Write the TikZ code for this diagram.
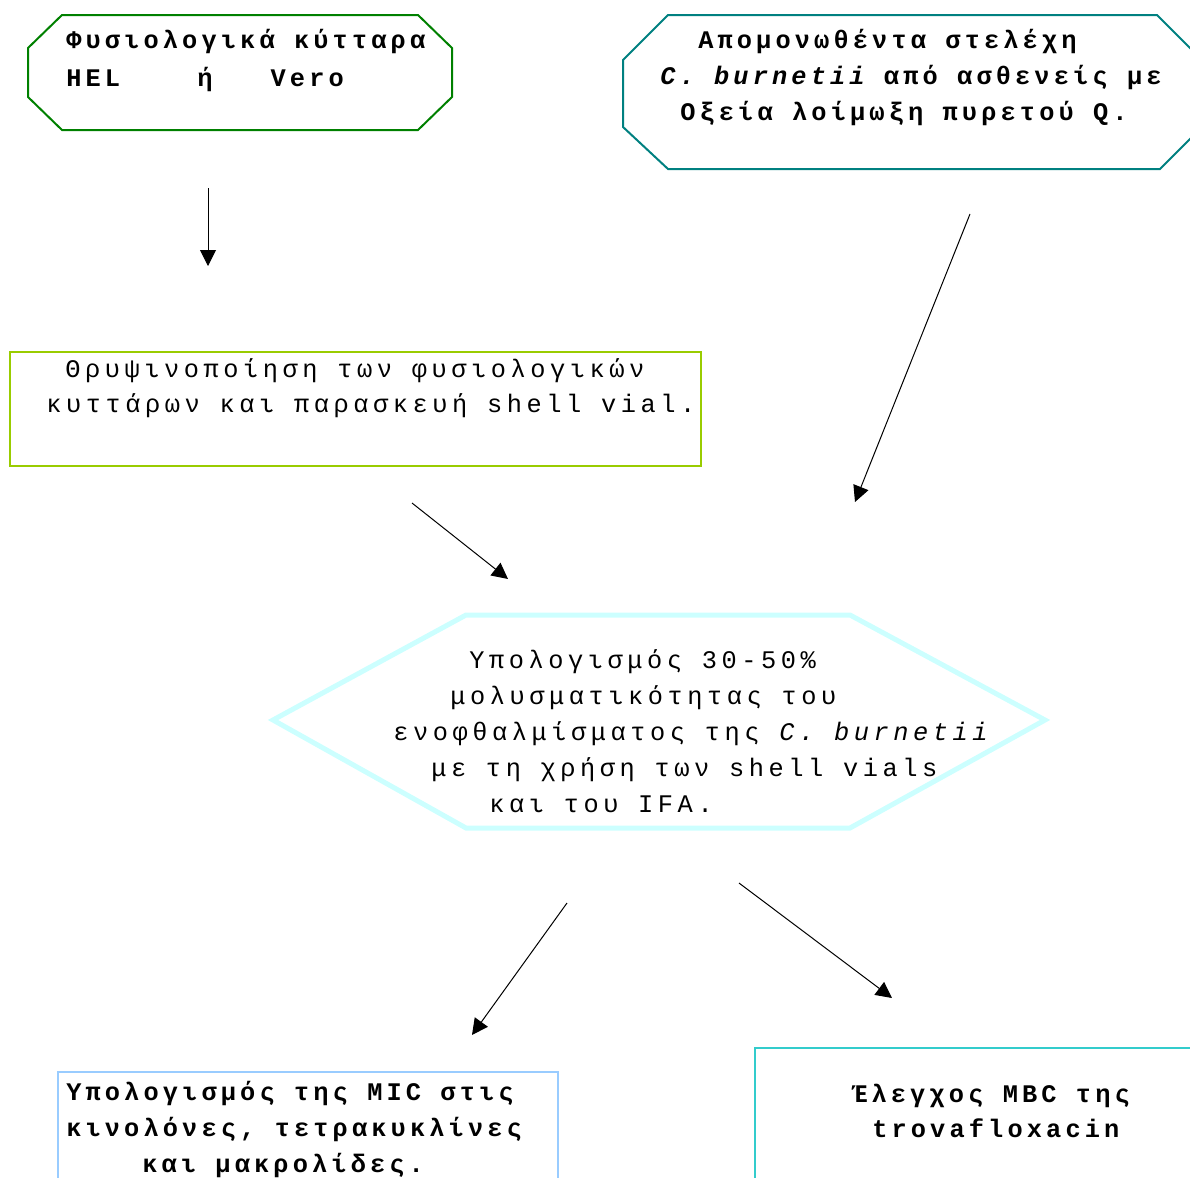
\documentclass[tikz,border=0pt]{standalone}
\usepackage{fontspec}
\usetikzlibrary{arrows.meta}
\newfontfamily\cour[LetterSpace=18,BoldFeatures={LetterSpace=16.3},BoldItalicFeatures={LetterSpace=16.3}]{Liberation Mono}
\definecolor{boxgreen}{RGB}{0,128,0}
\definecolor{boxteal}{RGB}{0,128,128}
\definecolor{boxlime}{RGB}{153,204,0}
\definecolor{boxcyan}{RGB}{204,255,255}
\definecolor{boxblue}{RGB}{153,204,255}
\definecolor{boxturq}{RGB}{51,204,204}
\begin{document}
\begin{tikzpicture}[x=0.75pt,y=-0.75pt,
  txt/.style={anchor=base west,inner sep=0pt,font=\cour\fontsize{19}{22}\selectfont},
  btxt/.style={anchor=base west,inner sep=0pt,font=\cour\bfseries\fontsize{19}{22}\selectfont},
  frame/.style={line width=1.5pt},
  link/.style={-{Triangle[length=12pt,width=12pt]},line width=0.75pt}]
\useasboundingbox (0,0) rectangle (1190,1178);
\begin{scope}
\clip (0,0) rectangle (1190,1178);
% box outlines
\draw[frame,boxgreen] (62,15) -- (418,15) -- (452,48) -- (452,97) -- (418,130) -- (62,130) -- (28,97) -- (28,48) -- cycle;
\draw[frame,boxteal] (668,15) -- (1157,15) -- (1202,60) -- (1202,127) -- (1160,169) -- (668,169) -- (623,127) -- (623,60) -- cycle;
\draw[frame,boxlime] (10,352) rectangle (701,466);
\draw[line width=3.75pt,boxcyan] (273,720) -- (466,615) -- (850,615) -- (1045,720) -- (850,828) -- (466,828) -- cycle;
\draw[frame,boxblue] (58,1200) -- (58,1072) -- (558,1072) -- (558,1200);
\draw[frame,boxturq] (755,1200) -- (755,1048) -- (1200,1048);
\end{scope}

% texts
\node[btxt] (c1) at (66,48) {Φυσιολογικά κύτταρα};
\node[btxt] (c2) at (66,86) {HEL~~~~ή~~~Vero};

\node[btxt] (s1) at (698,48) {Απομονωθέντα στελέχη};
\node[btxt] (s2) at (660,84) {\itshape C. burnetii\upshape{} από ασθενείς με};
\node[btxt] (s3) at (680,120) {Οξεία λοίμωξη πυρετού Q.};

\node[txt] (t1) at (65,377) {Θρυψινοποίηση των φυσιολογικών};
\node[txt] (t2) at (46,412) {κυττάρων και παρασκευή shell vial.};

\node[txt] (h1) at (469,668) {Υπολογισμός 30-50\%};
\node[txt] (h2) at (450,704) {μολυσματικότητας του};
\node[txt] (h3) at (393,740) {ενοφθαλμίσματος της \itshape C. burnetii};
\node[txt] (h4) at (431,776) {με τη χρήση των shell vials};
\node[txt] (h5) at (489,812) {και του IFA.};

\node[btxt] (m1) at (66,1100) {Υπολογισμός της MIC στις};
\node[btxt] (m2) at (66,1136) {κινολόνες, τετρακυκλίνες};
\node[btxt] (m3) at (142,1172) {και μακρολίδες.};

\node[btxt] (b1) at (852,1102) {Έλεγχος MBC της};
\node[btxt] (b2) at (872,1137) {trovafloxacin};

% arrows
\coordinate (a1s) at (208,188); \coordinate (a1e) at (208,266);
\coordinate (a2s) at (970,214); \coordinate (a2e) at (855,502);
\coordinate (a3s) at (412,503); \coordinate (a3e) at (508,579);
\coordinate (a4s) at (567,903); \coordinate (a4e) at (472,1035);
\coordinate (a5s) at (739,883); \coordinate (a5e) at (892,998);
\draw[link] (a1s) -- (a1e);
\draw[link] (a2s) -- (a2e);
\draw[link] (a3s) -- (a3e);
\draw[link] (a4s) -- (a4e);
\draw[link] (a5s) -- (a5e);
\end{tikzpicture}
\end{document}
